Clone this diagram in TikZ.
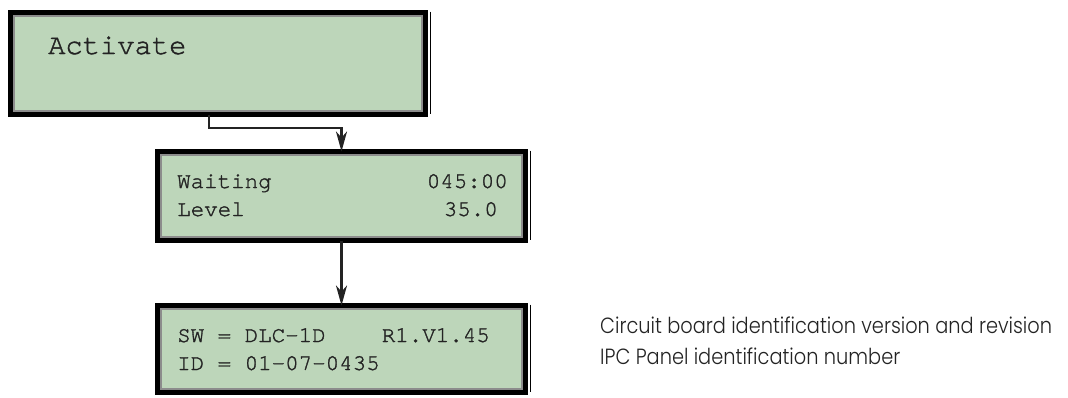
\documentclass[tikz,border=0pt]{standalone}
\usepackage{fontspec}
\setmonofont{TeX Gyre Cursor}[FakeBold=1.4]
\newfontfamily\notefont{Poppins}[UprightFont={* Light}]
\usetikzlibrary{positioning, arrows.meta}

\definecolor{lcdgreen}{RGB}{189,214,186}
\definecolor{bevelgray}{RGB}{140,140,140}
\definecolor{inkdark}{RGB}{35,35,35}

\begin{document}
\begin{tikzpicture}[x=1pt, y=1pt, >={Stealth[length=20pt, width=11pt, inset=6pt]},
  lcdbox/.style={draw=black, line width=5pt, fill=lcdgreen, inner sep=0pt, outer sep=0pt, anchor=north west},
  bevel/.style={draw=bevelgray, line width=2pt},
  edgeline/.style={draw=black, line width=1pt},
  link/.style={draw=inkdark, line width=2.5pt},
  lcdtext/.style={inner sep=0pt, text=inkdark, font=\ttfamily\fontsize{22.5}{28}\selectfont},
  bigtext/.style={inner sep=0pt, text=inkdark, font=\ttfamily\fontsize{28.8}{34}\selectfont},
  notetext/.style={inner sep=0pt, text=inkdark, anchor=base west, font=\notefont\fontsize{22}{26}\selectfont}]
  \useasboundingbox (0,0) rectangle (1068,-397);

  % display boxes
  \node[lcdbox, minimum width=415pt, minimum height=102pt] (act) at (10.5,-12.5) {};
  \node[lcdbox, minimum width=368pt, minimum height=89pt] (wait) at (157.5,-151.5) {};
  \node[lcdbox, minimum width=368pt, minimum height=87pt] (ident) at (157.5,-305.5) {};

  \foreach \b in {act, wait, ident} {
    \draw[bevel] ([shift={(3.5pt,-3.5pt)}]\b.north west) rectangle ([shift={(-3.5pt,3.5pt)}]\b.south east);
    \draw[edgeline] ([shift={(5pt,1pt)}]\b.north east) -- ([shift={(5pt,1pt)}]\b.south east);
  }

  % display texts
  \node[bigtext, anchor=base west] (actA) at (48,-54) {Activate};
  \node[lcdtext, anchor=base west] (waitA) at (177,-188) {Waiting};
  \node[lcdtext, anchor=base east] (waitB) at (508,-188) {045:00};
  \node[lcdtext, anchor=base west] (levelA) at (177,-216) {Level};
  \node[lcdtext, anchor=base east] (levelB) at (498,-216) {35.0};
  \node[lcdtext, anchor=base west] (swA) at (177,-342) {SW = DLC-1D};
  \node[lcdtext, anchor=base east] (swB) at (490,-342) {R1.V1.45};
  \node[lcdtext, anchor=base west] (idA) at (177,-370) {ID = 01-07-0435};

  % notes
  \node[notetext] (noteA) at (600,-333) {\scalebox{0.88}[1]{Circuit board identification version and revision}};
  \node[notetext] (noteB) at (600,-364) {\scalebox{0.88}[1]{IPC Panel identification number}};

  % connectors
  \coordinate (bend) at ([yshift=-13.5pt]act.south -| wait.north);
  \draw[link, ->] ([xshift=-9pt]act.south) |- (bend) -- (wait.north);
  \draw[link, ->] (wait.south) -- (ident.north);
\end{tikzpicture}
\end{document}
